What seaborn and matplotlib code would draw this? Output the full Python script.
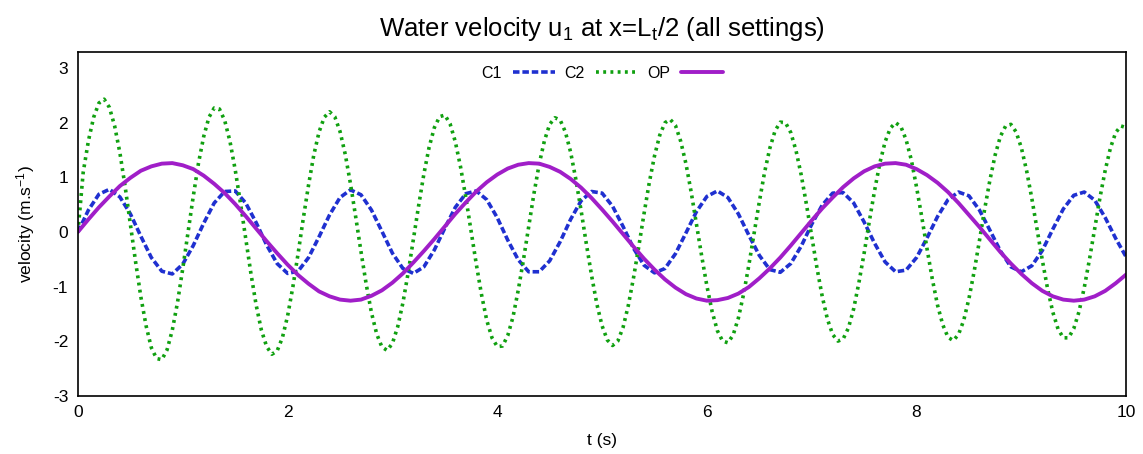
import matplotlib
matplotlib.use("Agg")
import matplotlib.pyplot as plt
import seaborn as sns
import numpy as np
import pandas as pd

# time grids (s)
t_fine = np.linspace(0, 10, 201)
t_coarse = np.linspace(0, 10, 101)

# C1 - water velocity, every 0.1 s
c1 = [0.00, 0.40, 0.69, 0.78, 0.64, 0.33, -0.08, -0.47, -0.72, -0.77,
      -0.59, -0.25, 0.16, 0.53, 0.74, 0.75, 0.53, 0.17, -0.24, -0.58,
      -0.76, -0.72, -0.47, -0.09, 0.31, 0.63, 0.77, 0.68, 0.40, 0.01,
      -0.39, -0.67, -0.76, -0.64, -0.33, 0.07, 0.45, 0.70, 0.75, 0.59,
      0.26, -0.15, -0.51, -0.73, -0.73, -0.53, -0.18, 0.23, 0.57, 0.74,
      0.71, 0.47, 0.10, -0.30, -0.61, -0.75, -0.67, -0.40, -0.02, 0.37,
      0.65, 0.75, 0.63, 0.33, -0.06, -0.43, -0.69, -0.74, -0.58, -0.26,
      0.14, 0.49, 0.71, 0.72, 0.53, 0.18, -0.21, -0.55, -0.73, -0.70,
      -0.47, -0.11, 0.28, 0.59, 0.73, 0.66, 0.40, 0.03, -0.35, -0.64,
      -0.73, -0.62, -0.34, 0.05, 0.42, 0.67, 0.73, 0.58, 0.26, -0.12,
      -0.46]

# C2 - every 0.05 s
c2 = [0.00, 1.09, 1.67, 2.10, 2.36, 2.43, 2.28, 1.94, 1.45, 0.83,
      0.14, -0.55, -1.19, -1.72, -2.12, -2.32, -2.34, -2.16, -1.80, -1.29,
      -0.67, -0.01, 0.65, 1.26, 1.75, 2.10, 2.27, 2.25, 2.04, 1.66,
      1.14, 0.53, -0.12, -0.76, -1.34, -1.80, -2.10, -2.24, -2.18, -1.94,
      -1.54, -1.01, -0.40, 0.25, 0.86, 1.41, 1.83, 2.10, 2.20, 2.11,
      1.84, 1.42, 0.88, 0.27, -0.36, -0.96, -1.48, -1.87, -2.11, -2.17,
      -2.04, -1.74, -1.30, -0.75, -0.14, 0.48, 1.06, 1.55, 1.91, 2.11,
      2.14, 1.98, 1.65, 1.19, 0.63, 0.02, -0.59, -1.15, -1.62, -1.94,
      -2.10, -2.09, -1.90, -1.56, -1.07, -0.51, 0.10, 0.70, 1.24, 1.67,
      1.97, 2.09, 2.05, 1.83, 1.46, 0.96, 0.39, -0.22, -0.80, -1.32,
      -1.72, -1.98, -2.08, -2.00, -1.75, -1.35, -0.84, -0.27, 0.33, 0.90,
      1.39, 1.77, 2.00, 2.06, 1.95, 1.66, 1.25, 0.73, 0.15, -0.44,
      -0.99, -1.46, -1.81, -2.00, -2.03, -1.89, -1.58, -1.14, -0.61, -0.03,
      0.55, 1.09, 1.53, 1.85, 2.01, 2.00, 1.82, 1.49, 1.04, 0.50,
      -0.08, -0.66, -1.18, -1.60, -1.88, -2.00, -1.96, -1.76, -1.41, -0.93,
      -0.39, 0.20, 0.76, 1.26, 1.65, 1.90, 2.00, 1.93, 1.69, 1.32,
      0.82, 0.27, -0.31, -0.86, -1.34, -1.70, -1.93, -1.99, -1.88, -1.62,
      -1.22, -0.72, -0.16, 0.42, 0.95, 1.41, 1.75, 1.94, 1.97, 1.83,
      1.54, 1.12, 0.61, 0.04, -0.52, -1.04, -1.47, -1.78, -1.94, -1.94,
      -1.77, -1.46, -1.02, -0.50, 0.07, 0.63, 1.13, 1.54, 1.82, 1.94,
      1.91]

# OP - every 0.1 s
op = [0.00, 0.23, 0.45, 0.65, 0.84, 0.99, 1.12, 1.20, 1.25, 1.26,
      1.22, 1.15, 1.03, 0.88, 0.71, 0.51, 0.29, 0.06, -0.17, -0.39,
      -0.60, -0.79, -0.95, -1.09, -1.18, -1.24, -1.26, -1.24, -1.17, -1.07,
      -0.93, -0.76, -0.56, -0.35, -0.13, 0.10, 0.33, 0.54, 0.74, 0.91,
      1.05, 1.16, 1.23, 1.26, 1.25, 1.19, 1.10, 0.97, 0.81, 0.62,
      0.41, 0.19, -0.04, -0.27, -0.49, -0.69, -0.87, -1.02, -1.14, -1.22,
      -1.26, -1.25, -1.21, -1.13, -1.01, -0.85, -0.67, -0.47, -0.25, -0.02,
      0.21, 0.43, 0.63, 0.82, 0.98, 1.11, 1.20, 1.25, 1.26, 1.23,
      1.15, 1.04, 0.90, 0.73, 0.53, 0.31, 0.09, -0.14, -0.37, -0.58,
      -0.77, -0.94, -1.08, -1.18, -1.24, -1.26, -1.24, -1.18, -1.08, -0.94,
      -0.78]

sns.set_style("white")
plt.rcParams['font.family'] = ['Liberation Sans', 'DejaVu Sans']
plt.rcParams['mathtext.default'] = 'regular'
plt.rcParams['axes.unicode_minus'] = False
plt.rcParams['text.color'] = 'black'
plt.rcParams['axes.labelcolor'] = 'black'

fig = plt.figure(figsize=(11.43, 4.54), dpi=100)
ax = fig.add_axes([0.0682, 0.1284, 0.9171, 0.7577])

sns.lineplot(x=t_coarse, y=c1, ax=ax, color='#1f30d0', lw=2.6,
             linestyle=(0, (1.8, 0.8)), label='C1')
sns.lineplot(x=t_fine, y=c2, ax=ax, color='#10a010', lw=2.6,
             linestyle=(0, (0.8, 1.2)), label='C2')
sns.lineplot(x=t_coarse, y=op, ax=ax, color='#a01ec8', lw=2.8,
             linestyle='-', label='OP')

ax.set_xlim(0, 10)
ax.set_ylim(-3, 3.3)
ax.set_xticks([0, 2, 4, 6, 8, 10])
ax.set_yticks([-3, -2, -1, 0, 1, 2, 3])
ax.tick_params(direction='in', length=7, width=1, colors='black',
               labelsize=12.5, pad=7)
for s in ax.spines.values():
    s.set_color('black')
    s.set_linewidth(1.2)

ax.set_xlabel('t (s)', fontsize=12.5, labelpad=9, color='black')
ax.set_ylabel('velocity (m.s$^{-1}$)', fontsize=12.5, labelpad=11, color='black')
ax.set_title('Water velocity u$_1$ at x=L$_t$/2 (all settings)', fontsize=18.5,
             pad=11, color='black')

leg = ax.legend(loc='upper center', ncol=3, frameon=False, markerfirst=False,
                handlelength=2.6, handletextpad=0.7, columnspacing=0.6,
                fontsize=11.5, bbox_to_anchor=(0.5, 1.0))
for txt in leg.get_texts():
    txt.set_color('black')

fig.savefig('out.png', dpi=100)
